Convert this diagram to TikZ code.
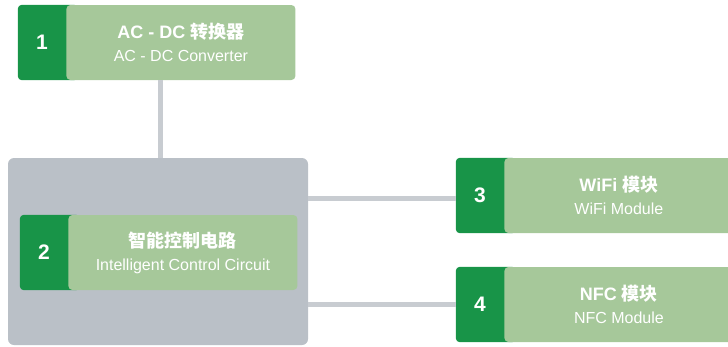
\documentclass[tikz,border=0pt]{standalone}
\usepackage{fontspec}
\setmainfont{Liberation Sans}
\newfontfamily\cjk{Noto Sans CJK SC}
\usepackage{xcolor}
\definecolor{tabgreen}{RGB}{24, 148, 72}
\definecolor{boxgreen}{RGB}{166, 200, 154}
\definecolor{panelgray}{RGB}{186, 192, 199}
\definecolor{linkgray}{RGB}{200, 204, 209}
\newcommand{\headfont}{\fontsize{18}{20}\selectfont\bfseries}
\newcommand{\subfont}{\fontsize{16}{18}\selectfont}
\usetikzlibrary{positioning, backgrounds}

\begin{document}
\begin{tikzpicture}[x=1pt, y=-1pt, node distance=0pt,
    numbox/.style={rectangle, minimum width=48pt, minimum height=75pt, inner sep=0pt, text=white, font=\fontsize{21}{24}\selectfont\bfseries},
    modbox/.style={rectangle, rounded corners=4pt, fill=boxgreen, minimum width=229pt, minimum height=75pt, inner sep=0pt, text=white, align=center, font=\subfont},
    link/.style={draw=linkgray, line width=5pt}]
    \useasboundingbox (0,0) rectangle (728,346);

    % modules
    \node [numbox] (num1) at (42,42.5) {1};
    \node [modbox, right=of num1] (acdc) {
        {\headfont AC - DC {\cjk 转换器}}\\[5pt]
        AC - DC Converter
    };

    \node [numbox] (num2) at (44,252.5) {2};
    \node [modbox, right=of num2] (mcu) {
        {\headfont \cjk 智能控制电路}\\[5pt]
        Intelligent Control Circuit
    };

    \node [numbox] (num3) at (480,195.5) {3};
    \node [modbox, right=of num3] (wifi) {
        {\headfont WiFi {\cjk 模块}}\\[5pt]
        WiFi Module
    };

    \node [numbox] (num4) at (480,304.5) {4};
    \node [modbox, right=of num4] (nfc) {
        {\headfont NFC {\cjk 模块}}\\[5pt]
        NFC Module
    };

    % panel and number tabs
    \begin{scope}[on background layer]
        \node [rectangle, rounded corners=6pt, fill=panelgray, minimum width=300pt, minimum height=187pt] (ctrl) at (158,251.5) {};
        \foreach \n in {1,2,3,4}
            \fill [tabgreen, rounded corners=4pt] (num\n.north west) rectangle ([xshift=12pt]num\n.south east);
    \end{scope}

    % links
    \draw [link] ([xshift=2pt]acdc.south -| ctrl.north) -- ([xshift=2pt]ctrl.north);
    \draw [link] ([yshift=-3pt]num3.west -| ctrl.east) -- ([yshift=-3pt]num3.west);
    \draw [link] (num4.west -| ctrl.east) -- (num4.west);
\end{tikzpicture}
\end{document}
